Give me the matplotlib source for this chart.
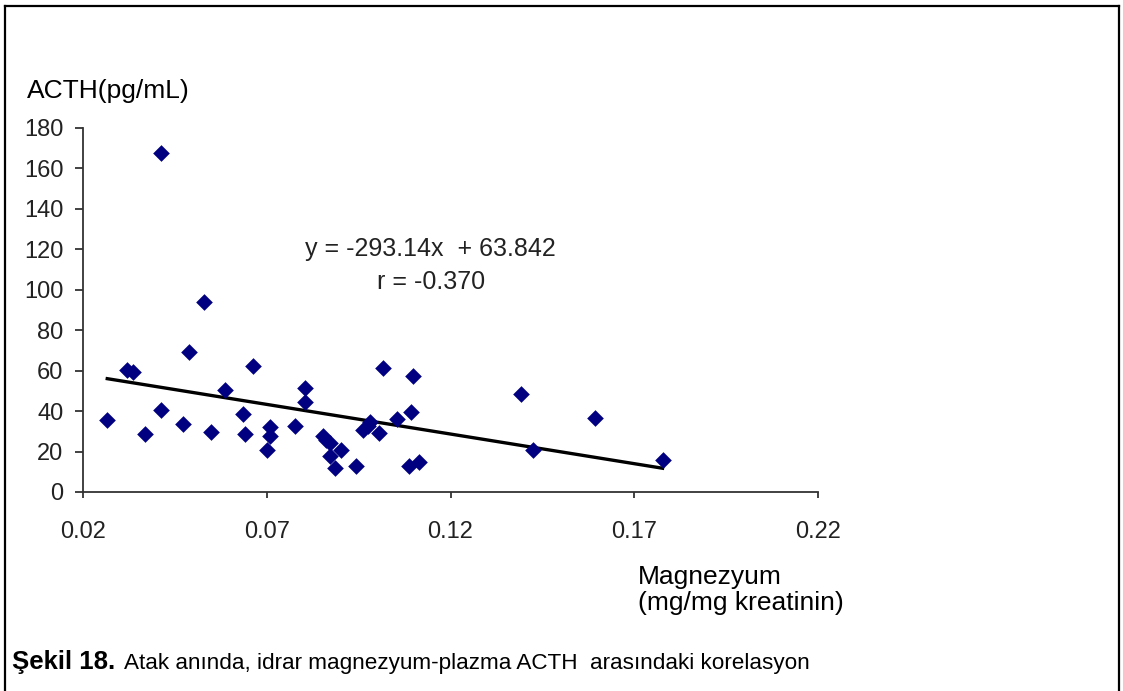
import matplotlib.pyplot as plt
import numpy as np
from matplotlib.lines import Line2D

plt.rcParams['font.family'] = ['Liberation Sans', 'DejaVu Sans']

# Datos: magnezyum (mg/mg kreatinin) vs ACTH (pg/mL)
magnezyum = np.array([
    0.0266, 0.0320, 0.0337, 0.0412, 0.0412, 0.0370, 0.0472, 0.0489, 0.0530,
    0.0549, 0.0586, 0.0635, 0.0640, 0.0662, 0.0701, 0.0710, 0.0710, 0.0777,
    0.0804, 0.0804, 0.0852, 0.0862, 0.0873, 0.0873, 0.0903, 0.0885, 0.0944,
    0.0962, 0.0975, 0.0982, 0.1005, 0.1016, 0.1054, 0.1098, 0.1093, 0.1087,
    0.1114, 0.1391, 0.1424, 0.1593, 0.1777])
acth = np.array([
    35.8, 60.5, 59.3, 167.8, 40.4, 28.7, 33.8, 69.2, 93.9,
    29.6, 50.6, 38.5, 28.7, 62.2, 20.6, 32.0, 27.9, 32.6,
    51.6, 44.5, 27.9, 25.5, 24.2, 17.8, 20.6, 11.7, 12.8,
    30.5, 32.5, 34.6, 29.3, 61.3, 35.9, 57.2, 39.5, 12.7,
    14.8, 48.3, 20.6, 36.8, 16.0])

egim = -293.14
sabit = 63.842
r_deger = -0.370

xticks = [0.02, 0.07, 0.12, 0.17, 0.22]
yticks = np.arange(0, 181, 20)

fig = plt.figure(figsize=(11.23, 6.91), dpi=100)
ax = fig.add_axes([83 / 1123, 1 - 492 / 691, 735 / 1123, 364 / 691])

ax.scatter(magnezyum, acth, marker='D', s=72, color='#000080', linewidths=0, zorder=3)

# trend çizgisi
xt = np.array([magnezyum.min(), magnezyum.max()])
ax.plot(xt, egim * xt + sabit, color='black', linewidth=2.4, zorder=2)

ax.set_xlim(0.02, 0.22)
ax.set_ylim(0, 180)
ax.set_xticks(xticks)
ax.set_xticklabels([f"{v:.2f}" for v in xticks])
ax.set_yticks(yticks)

for s in ['top', 'right']:
    ax.spines[s].set_visible(False)
for s in ['left', 'bottom']:
    ax.spines[s].set_color('#333333')
    ax.spines[s].set_linewidth(1.3)
ax.tick_params(axis='y', direction='out', length=6, width=1.3, color='#333333',
               pad=8, labelsize=17, labelcolor='#222222')
ax.tick_params(axis='x', direction='out', length=4, width=1.3, color='#333333',
               pad=17, labelsize=17, labelcolor='#222222')

ax.text(0.1146, 120.4, f"y = {egim:.2f}x  + {sabit:.3f}", ha='center', va='center',
        fontsize=18, color='#222222')
ax.text(0.1146, 103.6, f"r = {r_deger:.3f}", ha='center', va='center',
        fontsize=18, color='#222222')

fig.text(27 / 1123, 1 - 98 / 691, "ACTH(pg/mL)", fontsize=19, va='baseline')
fig.text(638 / 1123, 1 - 584 / 691, "Magnezyum", fontsize=19, va='baseline')
fig.text(638 / 1123, 1 - 610 / 691, "(mg/mg kreatinin)", fontsize=19, va='baseline')

fig.text(12 / 1123, 1 - 669 / 691, "Şekil 18.", fontsize=18.5, fontweight='bold',
         va='baseline')
fig.text(124 / 1123, 1 - 669 / 691,
         "Atak anında, idrar magnezyum-plazma ACTH  arasındaki korelasyon",
         fontsize=16.2, va='baseline')

# çerçeve
lx, rx, ty = 5 / 1123, 1119 / 1123, 1 - 6 / 691
fig.add_artist(Line2D([lx, lx], [0, ty], color='black', linewidth=1.6))
fig.add_artist(Line2D([lx, rx], [ty, ty], color='black', linewidth=1.6))
fig.add_artist(Line2D([rx, rx], [0, ty], color='black', linewidth=1.6))

fig.savefig('out.png', dpi=100)
